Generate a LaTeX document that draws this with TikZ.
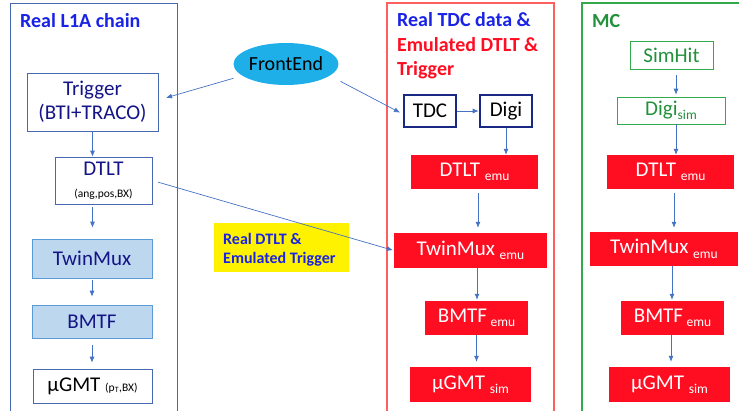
\documentclass[tikz,border=0pt]{standalone}
\usepackage{fontspec}
\setmainfont{Carlito}
\usetikzlibrary{arrows.meta,shapes.geometric}
\definecolor{navy}{RGB}{20,20,135}
\definecolor{titleblue}{RGB}{25,35,230}
\definecolor{framblue}{RGB}{70,105,175}
\definecolor{arrblue}{RGB}{68,114,196}
\definecolor{boxred}{RGB}{255,14,34}
\definecolor{framred}{RGB}{255,95,95}
\definecolor{framgreen}{RGB}{50,170,75}
\definecolor{txtgreen}{RGB}{35,145,60}
\definecolor{lightfill}{RGB}{189,215,238}
\definecolor{lightedge}{RGB}{91,155,213}
\definecolor{tdcedge}{RGB}{25,40,130}
\definecolor{fefill}{RGB}{30,175,232}
\newcommand{\subt}[1]{{\fontsize{13.5}{13.5}\selectfont\raisebox{-4.5pt}{#1}}}
\begin{document}
\begin{tikzpicture}[x=1pt,y=-1pt,
  bx/.style={inner sep=0pt, align=center, font=\fontsize{21}{24}\selectfont},
  lbox/.style={bx, draw=framblue, line width=0.7pt, text=navy},
  lfill/.style={bx, draw=lightedge, fill=lightfill, line width=0.7pt, text=navy},
  rbox/.style={bx, fill=boxred, text=white},
  tbox/.style={bx, draw=tdcedge, line width=2.6pt, text=black},
  gbox/.style={bx, draw=framgreen, line width=0.7pt, text=txtgreen},
  arr/.style={draw=arrblue, line width=0.7pt, -{Latex[length=6pt,width=5pt]}},
  ttl/.style={inner sep=0pt, anchor=base west, font=\fontsize{20}{24}\selectfont\bfseries}]
\useasboundingbox (0,0) rectangle (739,410);
\clip (0,0) rectangle (739,410);
\fill[white] (0,0) rectangle (739,410);
% frames
\draw[framblue, line width=0.8pt] (10,3) rectangle (177,420);
\draw[framred, line width=1.2pt] (387,3) rectangle (554,420);
\draw[framgreen, line width=1.2pt] (582,3) rectangle (760,420);
% titles
\node[ttl, text=titleblue] (t1) at (20,27) {Real L1A chain};
\node[ttl, text=titleblue] (t2a) at (397,26) {Real TDC data \&};
\node[ttl, text=boxred] (t2b) at (397,51) {Emulated DTLT \&};
\node[ttl, text=boxred] (t2c) at (397,75) {Trigger};
\node[ttl, text=txtgreen] (t3) at (592,27) {MC};
% FrontEnd
\node[ellipse, fill=fefill, minimum width=96pt, minimum height=42pt, inner sep=0pt, font=\fontsize{20}{24}\selectfont] (fe) at (286,64) {FrontEnd};
% left chain
\node[lbox, minimum width=131pt, minimum height=58pt] (trig) at (92.5,102) {Trigger\\(BTI+TRACO)};
\node[lbox, minimum width=97pt, minimum height=47pt] (dtlt) at (103.5,180.5) {DTLT\\[-2pt]{\fontsize{11.5}{12}\selectfont\color{black}(ang,pos,BX)}};
\node[lfill, minimum width=120pt, minimum height=39pt] (twin) at (92,258.5) {TwinMux};
\node[lfill, minimum width=120pt, minimum height=33pt] (bmtf) at (92,321.5) {BMTF};
\node[lbox, minimum width=119pt, minimum height=34pt, text=black] (gmt) at (92.5,386) {µGMT {\fontsize{11.5}{12}\selectfont(p\textsubscript{T},BX)}};
% middle chain
\node[tbox, minimum width=52pt, minimum height=32pt] (tdc) at (430,111) {TDC};
\node[tbox, minimum width=52pt, minimum height=32pt] (digi) at (506,111) {Digi};
\node[rbox, minimum width=127pt, minimum height=34pt] (dtltE) at (474.5,172) {DTLT \subt{emu}};
\node[rbox, minimum width=153pt, minimum height=35pt] (twinE) at (470.5,250.5) {TwinMux \subt{emu}};
\node[rbox, minimum width=103pt, minimum height=34pt] (bmtfE) at (476.5,318) {BMTF\,\subt{emu}};
\node[rbox, minimum width=121pt, minimum height=35pt] (gmtE) at (470.5,384.5) {µGMT \subt{sim}};
% right chain
\node[gbox, minimum width=83pt, minimum height=28pt] (sim) at (671.5,55) {SimHit};
\node[gbox, minimum width=108pt, minimum height=27pt] (digis) at (671,110.5) {Digi\subt{sim}};
\node[rbox, minimum width=127pt, minimum height=34pt] (dtltR) at (670.5,172) {DTLT \subt{emu}};
\node[rbox, minimum width=148pt, minimum height=34pt] (twinR) at (664,249) {TwinMux \subt{emu}};
\node[rbox, minimum width=103pt, minimum height=34pt] (bmtfR) at (672.5,318) {BMTF\,\subt{emu}};
\node[rbox, minimum width=121pt, minimum height=35pt] (gmtR) at (669.5,384.5) {µGMT \subt{sim}};
% yellow label
\node[fill=yellow, minimum width=135pt, minimum height=49pt, inner sep=0pt] (ylab) at (281.5,247.5) {};
\node[ttl, text=titleblue, font=\fontsize{16}{19}\selectfont\bfseries] (yl1) at (223,244) {Real DTLT \&};
\node[ttl, text=titleblue, font=\fontsize{16}{19}\selectfont\bfseries] (yl2) at (223,263) {Emulated Trigger};
% arrows left
\draw[arr] (trig.south) -- (trig.south |- dtlt.north);
\draw[arr, shorten <=3pt, shorten >=11pt] ([xshift=-11pt]dtlt.south) -- ([xshift=-11pt]dtlt.south |- twin.north);
\draw[arr, shorten <=2pt, shorten >=8pt] (twin.south) -- (twin.south |- bmtf.north);
\draw[arr, shorten <=7pt, shorten >=6pt] (bmtf.south) -- (bmtf.south |- gmt.north);
% arrows frontend
\draw[arr, shorten <=9pt, shorten >=8pt] (fe.195) -- ([yshift=2pt]trig.east);
\draw[arr, shorten <=12pt, shorten >=3pt] (fe.-15) -- ([yshift=-3pt]tdc.west);
\draw[arr, shorten <=6pt, shorten >=1pt] (dtlt.east) -- (twinE.west);
% arrows middle
\draw[arr] (tdc.east) -- (digi.west);
\draw[arr] (digi.south) -- (digi.south |- dtltE.north);
\draw[arr, shorten <=4pt, shorten >=5pt] ([xshift=3.5pt]dtltE.south) -- ([xshift=3.5pt]dtltE.south |- twinE.north);
\draw[arr, shorten >=1pt] ([xshift=6.5pt]twinE.south) -- ([xshift=6.5pt]twinE.south |- bmtfE.north);
\draw[arr, shorten >=5pt] (bmtfE.south) -- (bmtfE.south |- gmtE.north);
% arrows right
\draw[arr, shorten <=6pt, shorten >=2pt] ([xshift=4.5pt]sim.south) -- ([xshift=4.5pt]sim.south |- digis.north);
\draw[arr] ([xshift=5pt]digis.south) -- ([xshift=5pt]digis.south |- dtltR.north);
\draw[arr, shorten <=4pt, shorten >=4pt] ([xshift=3.5pt]dtltR.south) -- ([xshift=3.5pt]dtltR.south |- twinR.north);
\draw[arr, shorten >=1pt] ([xshift=8pt]twinR.south) -- ([xshift=8pt]twinR.south |- bmtfR.north);
\draw[arr, shorten >=5pt] ([xshift=-1.5pt]bmtfR.south) -- ([xshift=-1.5pt]bmtfR.south |- gmtR.north);
\end{tikzpicture}
\end{document}
